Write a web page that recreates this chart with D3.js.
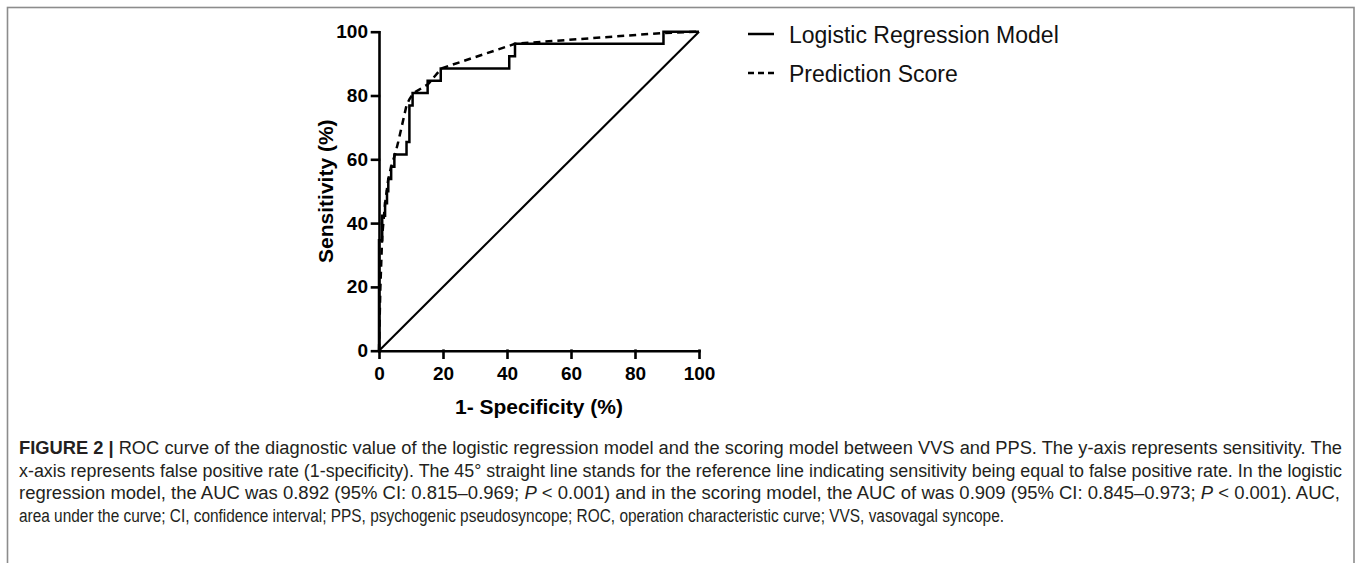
<!DOCTYPE html>
<html>
<head>
    <title>ROC curve - logistic regression model vs prediction score</title>
    <style>
        body {
            margin: 0;
            background: #fff;
            font-family: "Liberation Sans", Arial, sans-serif;
        }

        .axis path,
        .axis line {
            stroke: #000;
            stroke-width: 2.6px;
            stroke-linecap: square;
        }

        .axis text {
            font-family: "Liberation Sans", Arial, sans-serif;
            font-weight: bold;
            font-size: 19px;
            fill: #000;
        }

        .curve {
            fill: none;
            stroke: #000;
            stroke-linejoin: miter;
        }

        .caption {
            font-family: "Liberation Sans Narrow", "Liberation Sans", Arial, sans-serif;
            font-size: 18px;
            fill: #231f20;
        }
    </style>

    <script src="https://d3js.org/d3.v7.min.js"></script>
</head>
<body>
<div id="chart"></div>
<script>
    const width = 1357,
            height = 563;

    // tick values on both axes (percent)
    const xTicks = [0, 20, 40, 60, 80, 100];
    const yTicks = [0, 20, 40, 60, 80, 100];

    // logistic regression model, ROC vertices
    const lrFpr = [0, 0, 1.0, 1.0, 1.9, 1.9, 2.5, 2.5, 2.9, 2.9, 3.8, 3.8, 4.8, 4.8, 8.6, 8.6, 9.5, 9.5,
        10.5, 10.5, 15.2, 15.2, 19.3, 19.3, 40.7, 40.7, 42.5, 42.5, 88.9, 88.9, 100];
    const lrTpr = [0, 34.6, 34.6, 42.3, 42.3, 46.2, 46.2, 50.0, 50.0, 53.8, 53.8, 57.7, 57.7, 61.5, 61.5, 65.4, 65.4, 76.9,
        76.9, 80.8, 80.8, 84.6, 84.6, 88.5, 88.5, 92.3, 92.3, 96.2, 96.2, 100, 100];

    // prediction score
    const scoreFpr = [0, 0.4, 1.0, 1.9, 2.9, 3.8, 5.0, 6.0, 8.6, 9.5, 10.8, 15.3, 19.5, 42.5, 88.9, 100];
    const scoreTpr = [0, 19.0, 36.0, 46.2, 53.8, 57.7, 61.5, 65.4, 76.9, 78.8, 80.8, 83.5, 88.5, 96.2, 99.6, 100];

    // chance line
    const refFpr = [0, 100];
    const refTpr = [0, 100];

    const seriesNames = ['Logistic Regression Model', 'Prediction Score'];

    const xTitle = '1- Specificity (%)';
    const yTitle = 'Sensitivity (%)';

    // caption lines, each a list of [text, style]
    const captionLines = [
        [['FIGURE 2 | ', 'bold'], ['ROC curve of the diagnostic value of the logistic regression model and the scoring model between VVS and PPS. The y-axis represents sensitivity. The', '']],
        [['x-axis represents false positive rate (1-specificity). The 45\u00b0 straight line stands for the reference line indicating sensitivity being equal to false positive rate. In the logistic', '']],
        [['regression model, the AUC was 0.892 (95% CI: 0.815\u20130.969; ', ''], ['P', 'italic'], [' < 0.001) and in the scoring model, the AUC of was 0.909 (95% CI: 0.845\u20130.973; ', ''], ['P', 'italic'], [' < 0.001). AUC,', '']],
        [['area under the curve; CI, confidence interval; PPS, psychogenic pseudosyncope; ROC, operation characteristic curve; VVS, vasovagal syncope.', '']]
    ];
    const captionWidths = [1323, 1323, 1321, 985];

    const x = d3.scaleLinear()
            .domain([0, 100])
            .range([379, 699]);

    const y = d3.scaleLinear()
            .domain([0, 100])
            .range([350.7, 31.7]);

    const svg = d3.select('#chart').append('svg')
            .attr('width', width)
            .attr('height', height)
            .style('display', 'block');

    // frame round the figure (bottom edge is off the picture)
    svg.append('rect')
            .attr('x', 7.5)
            .attr('y', 7.5)
            .attr('width', 1346.5)
            .attr('height', 620)
            .attr('fill', 'none')
            .attr('stroke', '#8c8c8c')
            .attr('stroke-width', 1.6);

    const line = d3.line()
            .x(d => x(d[0]))
            .y(d => y(d[1]));

    const zip = (a, b) => a.map((v, i) => [v, b[i]]);

    svg.append('path')
            .attr('class', 'curve')
            .attr('stroke-width', 2.1)
            .attr('d', line(zip(refFpr, refTpr)));

    svg.append('path')
            .attr('class', 'curve')
            .attr('stroke-width', 2.5)
            .attr('d', line(zip(scoreFpr, scoreTpr)))
            .attr('stroke-dasharray', '7,5');

    svg.append('path')
            .attr('class', 'curve')
            .attr('stroke-width', 2.5)
            .attr('d', line(zip(lrFpr, lrTpr)));

    // axes
    svg.append('g')
            .attr('class', 'axis')
            .attr('transform', `translate(0,${y(0)})`)
            .call(d3.axisBottom(x).tickValues(xTicks).tickSize(7).tickSizeOuter(0).tickPadding(9))
            .call(g => g.selectAll('text').attr('text-anchor', 'middle'));

    svg.append('g')
            .attr('class', 'axis')
            .attr('transform', `translate(${x(0)},0)`)
            .call(d3.axisLeft(y).tickValues(yTicks).tickSize(7).tickSizeOuter(0).tickPadding(4));

    svg.append('text')
            .attr('x', (x(0) + x(100)) / 2)
            .attr('y', 414)
            .attr('text-anchor', 'middle')
            .style('font-weight', 'bold')
            .style('font-size', '21px')
            .text(xTitle);

    svg.append('text')
            .attr('transform', `translate(333,${(y(0) + y(100)) / 2}) rotate(-90)`)
            .attr('text-anchor', 'middle')
            .style('font-weight', 'bold')
            .style('font-size', '21px')
            .text(yTitle);

    // legend
    const legend = svg.append('g')
            .selectAll('g')
            .data(seriesNames)
            .join('g')
            .attr('transform', (d, i) => `translate(748,${34 + i * 39})`);

    legend.append('line')
            .attr('x1', 0)
            .attr('x2', 26)
            .attr('stroke', '#000')
            .attr('stroke-width', 2.5)
            .attr('stroke-dasharray', (d, i) => i ? '6,4' : null);

    legend.append('text')
            .attr('x', 41)
            .attr('y', 8.5)
            .style('font-size', '23px')
            .style('fill', '#111')
            .text(d => d);

    // caption
    const caption = svg.append('g')
            .attr('class', 'caption')
            .selectAll('text')
            .data(captionLines)
            .join('text')
            .attr('x', 19)
            .attr('y', (d, i) => 454 + i * 22.7)
            .attr('textLength', (d, i) => captionWidths[i])
            .attr('lengthAdjust', 'spacingAndGlyphs');

    caption.selectAll('tspan')
            .data(d => d)
            .join('tspan')
            .style('font-weight', d => d[1] === 'bold' ? 'bold' : null)
            .style('font-style', d => d[1] === 'italic' ? 'italic' : null)
            .text(d => d[0]);
</script>
</body>
</html>
